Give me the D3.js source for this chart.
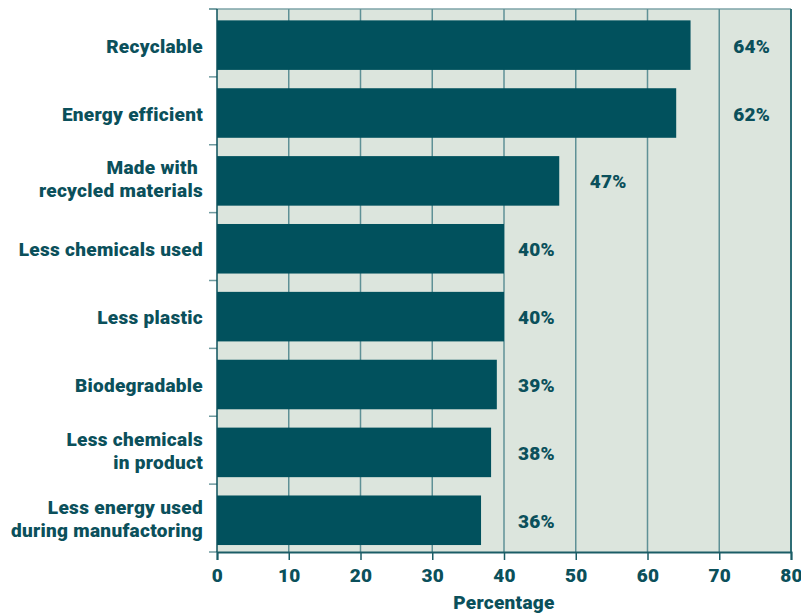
<!DOCTYPE html>
<html>
<head>
<meta charset="utf-8">
<script src="https://cdn.jsdelivr.net/npm/d3@7"></script>
<style>
  body { margin: 0; background: #fff; }
  text { font-family: Roboto, "Liberation Sans", Arial, sans-serif; font-weight: 900; fill: #0b505b; letter-spacing: 0.3px; }
</style>
</head>
<body>
<div id="chart"></div>
<script>
// categories, top to bottom (\n = line break)
const categories = [
  'Recyclable',
  'Energy efficient',
  'Made with \nrecycled materials',
  'Less chemicals used',
  'Less plastic',
  'Biodegradable',
  'Less chemicals\nin product',
  'Less energy used\nduring manufactoring'
];
// bar lengths as drawn in the picture
const barValues = [66, 64, 47.7, 40, 40, 39, 38.2, 36.8];
// printed value labels
const valueLabels = ['64%', '62%', '47%', '40%', '40%', '39%', '38%', '36%'];
const xTicks = [0, 10, 20, 30, 40, 50, 60, 70, 80];

const width = 801, height = 613;
const margin = { top: 9, right: 10, bottom: 61, left: 217 };
const fontSize = 19;

const svg = d3.select('#chart').append('svg')
  .attr('width', width)
  .attr('height', height);

const x = d3.scaleLinear()
  .domain([0, 80])
  .range([margin.left, width - margin.right]);

const y = d3.scaleBand()
  .domain(categories)
  .range([margin.top, height - margin.bottom])
  .paddingInner(0.27)
  .paddingOuter(0.135)
  .align(0.62);

const plotTop = margin.top, plotBottom = height - margin.bottom;

// plot background
svg.append('rect')
  .attr('x', x(0))
  .attr('y', plotTop)
  .attr('width', x(80) - x(0))
  .attr('height', plotBottom - plotTop)
  .attr('fill', '#dce5dd');

// top border
svg.append('line')
  .attr('x1', x(0) - 8).attr('x2', x(80))
  .attr('y1', plotTop).attr('y2', plotTop)
  .attr('stroke', '#7da3a7').attr('stroke-width', 1.5);

// vertical gridlines
svg.append('g')
  .selectAll('line')
  .data(xTicks.filter(d => d > 0 && d < 80))
  .join('line')
  .attr('x1', d => x(d)).attr('x2', d => x(d))
  .attr('y1', plotTop).attr('y2', plotBottom)
  .attr('stroke', '#5f9196')
  .attr('stroke-width', 1.5);

// right border
svg.append('line')
  .attr('x1', x(80)).attr('x2', x(80))
  .attr('y1', plotTop).attr('y2', plotBottom)
  .attr('stroke', '#2f6e75').attr('stroke-width', 2);

// bars
svg.append('g')
  .selectAll('rect')
  .data(categories)
  .join('rect')
  .attr('x', x(0))
  .attr('y', d => y(d))
  .attr('width', (d, i) => x(barValues[i]) - x(0))
  .attr('height', y.bandwidth())
  .attr('fill', '#01515d');

// category ticks on the left, at band boundaries
const step = y.step();
svg.append('g')
  .selectAll('line')
  .data(d3.range(categories.length + 1))
  .join('line')
  .attr('x1', x(0) - 8).attr('x2', x(0))
  .attr('y1', i => plotTop + i * step).attr('y2', i => plotTop + i * step)
  .attr('stroke', '#6f9a9f').attr('stroke-width', 1.5);

// left axis line
svg.append('line')
  .attr('x1', x(0)).attr('x2', x(0))
  .attr('y1', plotTop).attr('y2', plotBottom)
  .attr('stroke', '#0b505b').attr('stroke-width', 1.5);

// category labels
const lineH = 23;
svg.append('g')
  .selectAll('text')
  .data(categories)
  .join('text')
  .attr('text-anchor', 'end')
  .attr('font-size', fontSize)
  .style('white-space', 'pre')
  .each(function (d) {
    const lines = d.split('\n');
    const cy = y(d) + y.bandwidth() / 2 + 7.5 - 2.5 * (lines.length - 1);
    const t = d3.select(this);
    lines.forEach((ln, k) => {
      t.append('tspan')
        .attr('x', 203)
        .attr('y', cy + (k - (lines.length - 1) / 2) * lineH)
        .text(ln);
    });
  });

// value labels, placed in the grid cell right after the bar end
svg.append('g')
  .selectAll('text')
  .data(categories)
  .join('text')
  .attr('x', (d, i) => x(Math.ceil(barValues[i] / 10) * 10) + 14)
  .attr('y', d => y(d) + y.bandwidth() / 2 + 7.5)
  .attr('font-size', fontSize)
  .text((d, i) => valueLabels[i]);

// bottom axis
const xAxis = svg.append('g')
  .attr('transform', `translate(0,${plotBottom})`)
  .call(d3.axisBottom(x).tickValues(xTicks).tickSize(8).tickPadding(9));
xAxis.select('.domain').attr('stroke', '#1b5d66').attr('stroke-width', 2);
xAxis.selectAll('.tick line').attr('stroke', '#1b5d66').attr('stroke-width', 1.5);
xAxis.selectAll('.tick text')
  .attr('font-size', fontSize)
  .attr('font-family', 'Roboto, "Liberation Sans", Arial, sans-serif')
  .attr('fill', '#0b505b');

// axis title
svg.append('text')
  .attr('x', (x(0) + x(80)) / 2)
  .attr('y', 609)
  .attr('text-anchor', 'middle')
  .attr('font-size', fontSize)
  .text('Percentage');
</script>
</body>
</html>
